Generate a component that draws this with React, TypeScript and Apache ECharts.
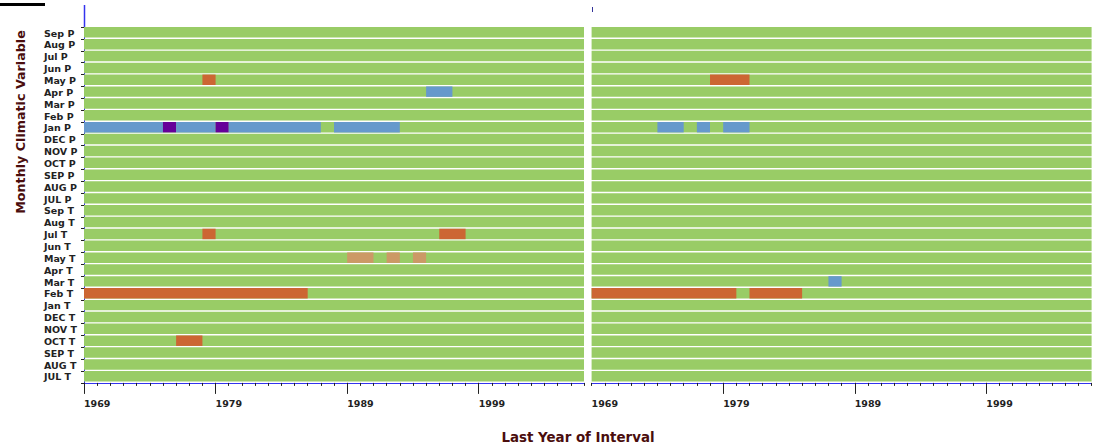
import React, { useEffect, useRef } from "react";
import * as echarts from "echarts";

// ---- data ----
const rows = [
  "JUL T", "AUG T", "SEP T", "OCT T", "NOV T", "DEC T", "Jan T", "Feb T", "Mar T", "Apr T",
  "May T", "Jun T", "Jul T", "Aug T", "Sep T",
  "JUL P", "AUG P", "SEP P", "OCT P", "NOV P", "DEC P", "Jan P", "Feb P", "Mar P", "Apr P",
  "May P", "Jun P", "Jul P", "Aug P", "Sep P",
];
const yearMin = 1969;
const yearMax = 2007;
const majorYears = [1969, 1979, 1989, 1999];

// [row, first year, end year, kind]
const leftSegments: [string, number, number, string][] = [
  ["May P", 1978, 1979, "neg"],
  ["Apr P", 1995, 1997, "pos"],
  ["Jan P", 1969, 1975, "pos"],
  ["Jan P", 1975, 1976, "strong"],
  ["Jan P", 1976, 1979, "pos"],
  ["Jan P", 1979, 1980, "strong"],
  ["Jan P", 1980, 1987, "pos"],
  ["Jan P", 1988, 1993, "pos"],
  ["Jul T", 1978, 1979, "neg"],
  ["Jul T", 1996, 1998, "neg"],
  ["May T", 1989, 1991, "weak"],
  ["May T", 1992, 1993, "weak"],
  ["May T", 1994, 1995, "weak"],
  ["Feb T", 1969, 1986, "neg"],
  ["OCT T", 1976, 1978, "neg"],
];
const rightSegments: [string, number, number, string][] = [
  ["May P", 1978, 1981, "neg"],
  ["Jan P", 1974, 1976, "pos"],
  ["Jan P", 1977, 1978, "pos"],
  ["Jan P", 1979, 1981, "pos"],
  ["Mar T", 1987, 1988, "pos"],
  ["Feb T", 1969, 1980, "neg"],
  ["Feb T", 1981, 1985, "neg"],
];

const kindColors: Record<string, string> = {
  base: "#99CC66",
  neg: "#CC6633",
  pos: "#6699CC",
  strong: "#660099",
  weak: "#CC9966",
};

const FONT = "DejaVu Sans";

export default function App() {
  const ref = useRef<HTMLDivElement>(null);
  useEffect(() => {
    if (!ref.current) return;
    const chart = echarts.init(ref.current, undefined, { renderer: "svg" });

    const toData = (segs: [string, number, number, string][]) =>
      segs.map((s) => ({
        value: [s[1], s[2], rows.indexOf(s[0])],
        itemStyle: { color: kindColors[s[3]] },
      }));
    const baseData = rows.map((r, i) => ({
      value: [yearMin, yearMax, i],
      itemStyle: { color: kindColors.base },
    }));

    const renderItem = (params: any, api: any) => {
      const s = api.coord([api.value(0), api.value(2)]);
      const e = api.coord([api.value(1), api.value(2)]);
      const h = api.size([0, 1])[1];
      return {
        type: "rect",
        shape: { x: s[0], y: s[1] - h / 2, width: e[0] - s[0], height: h - 1.4 },
        style: { fill: api.visual("color") },
      };
    };

    const gridTop = 27.1;
    const gridHeight = 355.8;
    const grids = [
      { left: 84, width: 500, top: gridTop, height: gridHeight },
      { left: 591.6, width: 500, top: gridTop, height: gridHeight },
    ];

    const xAxes: any[] = [];
    const yAxes: any[] = [];
    [0, 1].forEach((g) => {
      // minor ticks each year
      xAxes.push({
        type: "value",
        gridIndex: g,
        position: "bottom",
        min: yearMin,
        max: yearMax,
        interval: 1,
        axisLine: { show: true, lineStyle: { color: "#3333EE", width: 1 } },
        axisTick: { show: true, length: 3, lineStyle: { color: "#222" } },
        axisLabel: { show: false },
        splitLine: { show: false },
      });
      // major ticks + labels
      const majors = g === 0 ? majorYears : majorYears.slice(1);
      xAxes.push({
        type: "value",
        gridIndex: g,
        position: "bottom",
        min: yearMin,
        max: yearMax,
        axisLine: { show: false },
        axisTick: { show: true, length: 11, customValues: majors, lineStyle: { color: "#222" } },
        axisLabel: {
          show: true,
          customValues: majorYears,
          align: "left",
          margin: 16,
          fontFamily: FONT,
          fontWeight: "bold",
          fontSize: 9.5,
          color: "#222",
          formatter: (v: number) => String(v),
        },
        splitLine: { show: false },
      });
      yAxes.push({
        type: "category",
        gridIndex: g,
        data: rows,
        show: g === 0,
        axisLine: { show: true, lineStyle: { color: "#3333EE" } },
        axisTick: { show: true, interval: 0, length: 3, lineStyle: { color: "#222" } },
        axisLabel: {
          show: true,
          interval: 0,
          align: "left",
          margin: 40,
          fontFamily: FONT,
          fontWeight: "bold",
          fontSize: 9.5,
          color: "#222",
        },
        splitLine: { show: false },
      });
    });

    const series: any[] = [];
    [leftSegments, rightSegments].forEach((segs, g) => {
      series.push({
        type: "custom",
        name: "base" + g,
        xAxisIndex: g * 2,
        yAxisIndex: g,
        renderItem,
        encode: { x: [0, 1], y: 2 },
        data: baseData,
        z: 2,
      });
      series.push({
        type: "custom",
        name: "signif" + g,
        xAxisIndex: g * 2,
        yAxisIndex: g,
        renderItem,
        encode: { x: [0, 1], y: 2 },
        data: toData(segs),
        z: 3,
      });
    });

    chart.setOption({
      animation: false,
      backgroundColor: "#ffffff",
      grid: grids,
      xAxis: xAxes,
      yAxis: yAxes,
      series,
      graphic: [
        { type: "rect", shape: { x: 0, y: 3, width: 45, height: 3 }, style: { fill: "#000" } },
        { type: "line", shape: { x1: 84.5, y1: 5, x2: 84.5, y2: 27 }, style: { stroke: "#3333EE", lineWidth: 1.5 } },
        { type: "line", shape: { x1: 592.5, y1: 7, x2: 592.5, y2: 12 }, style: { stroke: "#333399", lineWidth: 1 } },
        {
          type: "text",
          x: 20,
          y: 122,
          rotation: Math.PI / 2,
          style: {
            text: "Monthly Climatic Variable",
            fontFamily: FONT,
            fontWeight: "bold",
            fontSize: 12.7,
            fill: "#4a0d0d",
            align: "center",
            verticalAlign: "middle",
          },
        },
        {
          type: "text",
          x: 578,
          y: 437,
          style: {
            text: "Last Year of Interval",
            fontFamily: FONT,
            fontWeight: "bold",
            fontSize: 13.4,
            fill: "#4a0d0d",
            align: "center",
            verticalAlign: "middle",
          },
        },
      ],
    });
    return () => chart.dispose();
  }, []);

  return (
    <div
      ref={ref}
      style={{ position: "fixed", left: 0, top: 0, width: 1099, height: 445, background: "#fff" }}
    />
  );
}
